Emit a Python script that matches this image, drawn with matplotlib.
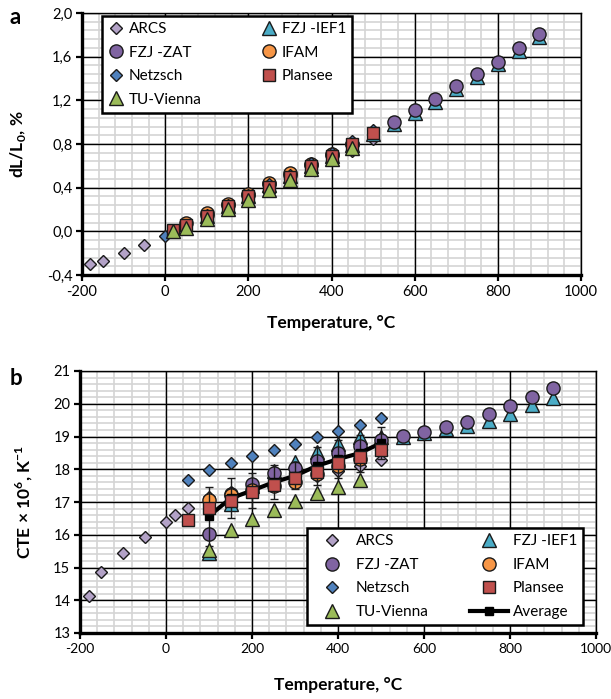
import matplotlib
matplotlib.use("Agg")
import matplotlib.pyplot as plt
from matplotlib.ticker import MultipleLocator, FuncFormatter
import numpy as np

plt.rcParams['font.family'] = ['Lato', 'DejaVu Sans']
plt.rcParams['axes.unicode_minus'] = False
plt.rcParams['mathtext.fontset'] = 'custom'
plt.rcParams['mathtext.rm'] = 'Lato'
plt.rcParams['mathtext.bf'] = 'Lato:bold'

#### data: panel a, dL/L0 in % ##############################
T_arcs_a = [-180, -150, -100, -50, 20, 50, 100, 150, 200, 250, 300, 350, 400, 450, 500]
dl_arcs = [-0.30, -0.27, -0.195, -0.125, -0.01, 0.04, 0.12, 0.20, 0.29, 0.38, 0.47, 0.56, 0.65, 0.74, 0.85]
T_net_a = [0, 50, 100, 150, 200, 250, 300, 350, 400, 450, 500]
dl_net = [-0.04, 0.06, 0.15, 0.24, 0.33, 0.43, 0.52, 0.63, 0.72, 0.83, 0.93]
T_ifam_a = [50, 100, 150, 200, 250, 300, 350, 400, 450]
dl_ifam = [0.08, 0.17, 0.25, 0.34, 0.44, 0.53, 0.62, 0.71, 0.80]
T_zat_a = [100, 150, 200, 250, 300, 350, 400, 450, 550, 600, 650, 700, 750, 800, 850, 900]
dl_zat = [0.15, 0.24, 0.33, 0.43, 0.52, 0.61, 0.70, 0.80, 1.005, 1.11, 1.21, 1.33, 1.44, 1.555, 1.68, 1.81]
T_ief_a = [100, 150, 200, 250, 300, 350, 400, 450, 500, 550, 600, 650, 700, 750, 800, 850, 900]
dl_ief = [0.14, 0.23, 0.32, 0.42, 0.51, 0.60, 0.69, 0.79, 0.89, 0.98, 1.085, 1.185, 1.30, 1.41, 1.53, 1.65, 1.78]
T_pl_a = [20, 50, 100, 150, 200, 250, 300, 350, 400, 450, 500]
dl_pl = [0.01, 0.055, 0.14, 0.23, 0.32, 0.41, 0.50, 0.60, 0.69, 0.80, 0.90]
T_tu_a = [20, 50, 100, 150, 200, 250, 300, 350, 400, 450]
dl_tu = [0.0, 0.03, 0.11, 0.20, 0.29, 0.38, 0.47, 0.57, 0.66, 0.76]

#### data: panel b, CTE x 10^6 in 1/K ########################
T_arcs_b = [-180, -150, -100, -50, 0, 20, 50, 100, 150, 200, 250, 300, 350, 400, 450, 500]
cte_arcs = [14.12, 14.87, 15.44, 15.93, 16.39, 16.61, 16.81, 17.16, 17.30, 17.45, 17.60, 17.70, 17.80, 17.95, 18.10, 18.28]
T_ief_b = [100, 150, 200, 250, 300, 350, 400, 450, 500, 550, 600, 650, 700, 750, 800, 850, 900]
cte_ief = [15.45, 16.95, 17.50, 17.96, 18.21, 18.52, 18.77, 18.98, 19.00, 18.98, 19.10, 19.22, 19.33, 19.48, 19.68, 19.96, 20.18]
T_zat_b = [100, 150, 200, 250, 300, 350, 400, 450, 500, 550, 600, 650, 700, 750, 800, 850, 900]
cte_zat = [16.01, 17.25, 17.55, 17.88, 18.03, 18.26, 18.49, 18.71, 18.89, 19.02, 19.13, 19.30, 19.45, 19.68, 19.93, 20.20, 20.47]
T_ifam_b = [100, 150, 200, 250, 300, 350, 400, 450]
cte_ifam = [17.06, 17.20, 17.38, 17.50, 17.60, 17.85, 18.10, 18.30]
T_net_b = [50, 100, 150, 200, 250, 300, 350, 400, 450, 500]
cte_net = [17.67, 17.98, 18.20, 18.41, 18.59, 18.77, 18.97, 19.16, 19.36, 19.55]
T_pl_b = [50, 100, 150, 200, 250, 300, 350, 400, 450, 500]
cte_pl = [16.45, 16.81, 17.04, 17.31, 17.52, 17.72, 17.92, 18.18, 18.38, 18.59]
T_tu_b = [100, 150, 200, 250, 300, 350, 400, 450]
cte_tu = [15.53, 16.15, 16.47, 16.76, 17.03, 17.27, 17.47, 17.67]
T_avg = [100, 150, 200, 250, 300, 350, 400, 450, 500]
cte_avg = [16.57, 17.11, 17.35, 17.60, 17.80, 18.10, 18.31, 18.49, 18.80]
cte_err = [0.90, 0.61, 0.54, 0.52, 0.41, 0.57, 0.59, 0.57, 0.50]

names = ['ARCS', 'FZJ -IEF1', 'FZJ -ZAT', 'IFAM', 'Netzsch', 'Plansee', 'TU-Vienna']
colors = ['#B3A2C7', '#4BACC6', '#8064A2', '#F79646', '#4F81BD', '#C0504D', '#9BBB59']
markers = ['D', '^', 'o', 'o', 'D', 's', '^']
msizes = [6.6, 10, 9.5, 9.5, 6.6, 8, 10]

data_a = [(T_arcs_a, dl_arcs), (T_ief_a, dl_ief), (T_zat_a, dl_zat), (T_ifam_a, dl_ifam),
          (T_net_a, dl_net), (T_pl_a, dl_pl), (T_tu_a, dl_tu)]
data_b = [(T_arcs_b, cte_arcs), (T_ief_b, cte_ief), (T_zat_b, cte_zat), (T_ifam_b, cte_ifam),
          (T_net_b, cte_net), (T_pl_b, cte_pl), (T_tu_b, cte_tu)]


def style_axes(ax, ymin, ymax, ymaj, ymin_step):
    ax.set_xlim(-200, 1000)
    ax.set_ylim(ymin, ymax)
    ax.xaxis.set_major_locator(MultipleLocator(200))
    ax.yaxis.set_major_locator(MultipleLocator(ymaj))
    # excel style grid: light minor lines under black major lines
    for v in np.arange(-200, 1000.1, 40):
        ax.axvline(v, color='#d4d4d4', lw=1.2, zorder=0.1)
    for v in np.arange(ymin, ymax + 1e-9, ymin_step):
        ax.axhline(v, color='#d4d4d4', lw=1.2, zorder=0.1)
    for v in np.arange(-200, 1000.1, 200):
        ax.axvline(v, color='black', lw=1.0, zorder=0.3)
    for v in np.arange(ymin, ymax + 1e-9, ymaj):
        ax.axhline(v, color='black', lw=1.0, zorder=0.3)
    for s in ['left', 'bottom']:
        ax.spines[s].set_linewidth(2.4)
    for s in ['top', 'right']:
        ax.spines[s].set_linewidth(1.0)
    ax.tick_params(which='major', direction='out', length=4, width=1.6, labelsize=10.5, pad=3)


def legend_order(handles):
    # column-major fill so rows read: ARCS | FZJ -IEF1, FZJ -ZAT | IFAM ...
    idx = [0, 2, 4, 6, 1, 3, 5] + ([7] if len(handles) > 7 else [])
    return [handles[i] for i in idx]


fig = plt.figure(figsize=(6.11, 6.99), dpi=100)
ax1 = fig.add_axes([82/611, 1-275/699, 499/611, 262/699])
ax2 = fig.add_axes([80/611, 1-633/699, 516/611, 262/699])

###### panel a ######
h1 = []
for i, (x, y) in enumerate(data_a):
    l, = ax1.plot(x, y, ls='none', marker=markers[i], ms=msizes[i], mfc=colors[i],
                  mec='#1a1a1a', mew=1.0, label=names[i], zorder=3+i)
    h1.append(l)
style_axes(ax1, -0.4, 2.0, 0.4, 0.08)
ax1.yaxis.set_major_formatter(FuncFormatter(lambda v, p: ('%.1f' % v).replace('.', ',')))
ax1.set_xlabel('Temperature, °C', fontsize=12.5, fontweight='bold', va='center')
ax1.xaxis.set_label_coords(0.5, -48/262)
ax1.set_ylabel(r'dL/L$_\mathbf{0}$, %', fontsize=12.5, fontweight='bold', va='center')
ax1.yaxis.set_label_coords(-64/499, 0.5)
leg1 = ax1.legend(handles=legend_order(h1), ncol=2, loc='upper left',
                  bbox_to_anchor=(20/499, 1-3/262), borderaxespad=0, fontsize=11,
                  handlelength=1.0, handletextpad=0.35, columnspacing=3.9,
                  labelspacing=0.62, borderpad=0.4, fancybox=False, framealpha=1,
                  edgecolor='black')
leg1.get_frame().set_linewidth(1.8)
leg1.set_zorder(20)
fig.text(10/611, 1-17/699, 'a', fontsize=16, fontweight='bold', va='center')

###### panel b ######
h2 = []
for i, (x, y) in enumerate(data_b):
    z = 3+i if i < 5 else 6+i
    l, = ax2.plot(x, y, ls='none', marker=markers[i], ms=msizes[i], mfc=colors[i],
                  mec='#1a1a1a', mew=1.0, label=names[i], zorder=z)
    h2.append(l)
ax2.errorbar(T_avg, cte_avg, yerr=cte_err, fmt='none', ecolor='#1a1a1a', elinewidth=1.0,
             capsize=3, capthick=1.0, zorder=8)
la, = ax2.plot(T_avg, cte_avg, '-s', color='black', lw=3, ms=6, label='Average', zorder=9)
h2.append(la)
style_axes(ax2, 13, 21, 1, 0.2)
ax2.tick_params(axis='x', labelsize=10)
ax2.set_xlabel('Temperature, °C', fontsize=12.5, fontweight='bold', va='center')
ax2.xaxis.set_label_coords(0.5, -52/262)
ax2.set_ylabel(r'CTE × 10$^\mathbf{6}$, K$^\mathbf{-1}$', fontsize=12.5, fontweight='bold', va='center')
ax2.yaxis.set_label_coords(-56/516, 0.5)
leg2 = ax2.legend(handles=legend_order(h2), ncol=2, loc='lower right',
                  bbox_to_anchor=(503/516, 8/262), borderaxespad=0, fontsize=11,
                  handlelength=2.5, handletextpad=0.3, columnspacing=2.7,
                  labelspacing=0.62, borderpad=0.4, fancybox=False, framealpha=1,
                  edgecolor='black')
leg2.get_frame().set_linewidth(1.8)
leg2.set_zorder(20)
fig.text(10/611, 1-378/699, 'b', fontsize=16, fontweight='bold', va='center')

fig.savefig('out.png', dpi=100)
